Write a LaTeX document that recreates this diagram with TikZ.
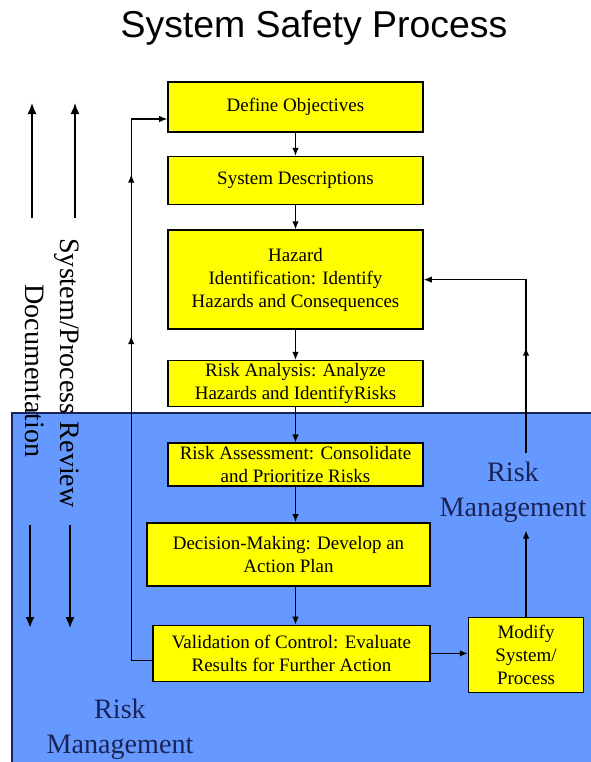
\documentclass[tikz,border=0pt]{standalone}
\usepackage{fontspec}
\setmainfont{Liberation Serif}
\newfontfamily\titlefont{Liberation Sans}
\usetikzlibrary{positioning,arrows.meta,decorations.markings}

\definecolor{boxyellow}{RGB}{255,255,0}
\definecolor{riskblue}{RGB}{102,153,255}
\definecolor{navy}{RGB}{25,35,85}

\tikzset{
  procbox/.style={draw=black, line width=0.9pt, fill=boxyellow, align=center,
    font=\rmfamily\fontsize{10.8}{13}\selectfont, minimum width=5.1cm, inner sep=1pt},
  flow/.style={draw=black, line width=0.7pt, -{Latex[length=1.6mm,width=1.3mm]}},
  midarrow/.style={postaction={decorate, decoration={markings,
    mark=at position #1 with {\arrow{Latex[length=1.6mm,width=1.3mm]}}}}},
  sidearrow/.style={draw=black, line width=0.8pt, -{Latex[length=2.2mm,width=1.8mm]}},
  sidelabel/.style={font=\rmfamily\fontsize{16}{19}\selectfont, inner sep=0pt},
  risklabel/.style={font=\rmfamily\fontsize{16}{19.8}\selectfont, text=navy, align=center, inner sep=0pt}
}

\begin{document}
\begin{tikzpicture}[x=0.02cm, y=-0.02cm]
  \useasboundingbox (0,0) rectangle (591,762);
  % risk management area
  \fill[riskblue] (12,413) rectangle (591,762);
  \draw[navy, line width=0.8pt] (591,413) -- (12,413) -- (12,762);

  % title
  \node[font=\titlefont\fontsize{21.3}{25}\selectfont, anchor=base] (title) at (314,37) {System Safety Process};

  % Nodes
  % process steps
  \node[procbox, minimum height=1.0cm] (define) at (295.5,107) {Define Objectives};
  \node[procbox, minimum height=0.96cm, below=0.46cm of define] (sysdesc) {System Descriptions};
  \node[procbox, minimum height=1.98cm, below=0.48cm of sysdesc] (hazard) {Hazard\\Identification: Identify\\Hazards and Consequences};
  \node[procbox, minimum height=0.92cm, below=0.6cm of hazard] (riskan) {Risk Analysis: Analyze\\Hazards and IdentifyRisks};
  \node[procbox, minimum height=0.86cm, below=0.7cm of riskan] (riskass) {Risk Assessment: Consolidate\\and Prioritize Risks};
  \node[procbox, minimum width=5.66cm, minimum height=1.26cm, below=0.7cm of riskass, xshift=-0.14cm] (decision) {Decision-Making: Develop an\\Action Plan};
  \node[procbox, minimum width=5.54cm, minimum height=1.12cm, below=0.76cm of decision, xshift=0.06cm] (valid) {Validation of Control: Evaluate\\Results for Further Action};
  \node[procbox, minimum width=2.3cm, minimum height=1.5cm, right=0.74cm of valid, yshift=-0.03cm] (modify) {Modify\\System/\\Process};

  % labels
  \node[risklabel, inner ysep=0.16cm] (riskR) at (513,492) {Risk\\Management};
  \node[risklabel] (riskL) at (120,729) {Risk\\Management};
  \node[sidelabel, rotate=-90] (doc) at (35,371) {Documentation};
  \node[sidelabel, rotate=-90] (review) at (67,373) {System/Process Review};

  % side arrows
  \coordinate (docUp) at (32,218);
  \coordinate (docTop) at (32,103);
  \coordinate (revUp) at (75,218);
  \coordinate (revTop) at (75,103);
  \coordinate (docDown) at (30,525);
  \coordinate (docBot) at (30,628);
  \coordinate (revDown) at (70,525);
  \coordinate (revBot) at (70,628);
  \draw[sidearrow] (docUp) -- (docTop);
  \draw[sidearrow] (revUp) -- (revTop);
  \draw[sidearrow, line width=1.3pt] (docDown) -- (docBot);
  \draw[sidearrow] (revDown) -- (revBot);

  % edges
  \draw[flow] (define) -- (sysdesc);
  \draw[flow] (sysdesc) -- (hazard);
  \draw[flow] (hazard) -- (riskan);
  \draw[flow] (riskan) -- (riskass);
  \draw[flow] (riskass.south) -- (riskass.south |- decision.north);
  \draw[flow] (riskass.south |- decision.south) -- (riskass.south |- valid.north);
  \draw[flow] (valid.east) -- (valid.east -| modify.west);

  % feedback loops
  \draw[flow, midarrow=0.577, midarrow=0.847] ([yshift=-0.14cm]valid.west) -- ++(-0.42cm,0) |- ([yshift=-0.24cm]define.west);
  \draw[flow] (modify.north) -- (modify.north |- riskR.south);
  \draw[flow, midarrow=0.383] (modify.north |- riskR.north) |- (hazard.east);
\end{tikzpicture}
\end{document}
